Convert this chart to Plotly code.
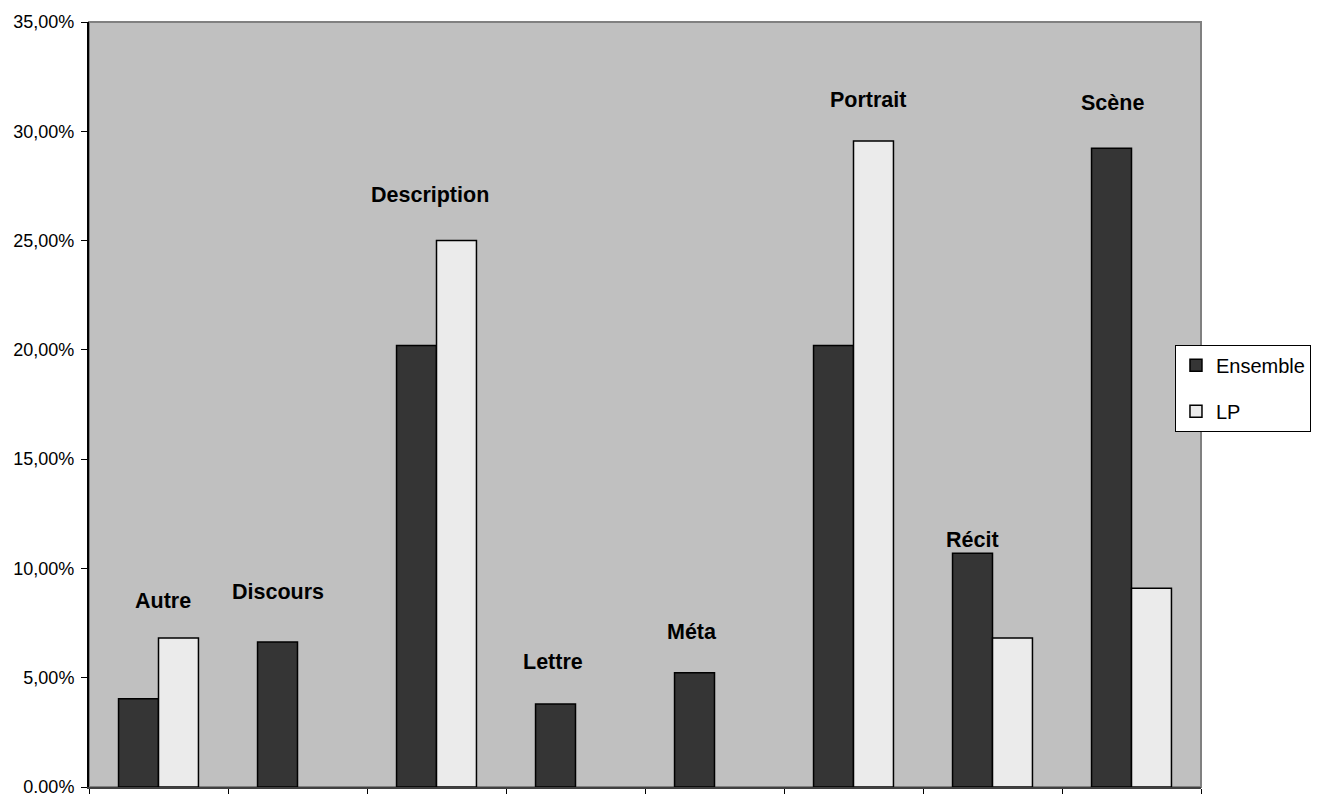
import plotly.graph_objects as go

# Share of each passage type, whole corpus vs. LP (None = no passage of that type)
categories = ["Autre", "Discours", "Description", "Lettre", "Méta", "Portrait", "Récit", "Scène"]
ensemble = [0.0404, 0.0663, 0.2020, 0.0380, 0.0523, 0.2020, 0.1069, 0.2922]
lp = [0.0682, None, 0.2500, None, None, 0.2955, 0.0682, 0.0909]

y_tickvals = [0, 0.05, 0.10, 0.15, 0.20, 0.25, 0.30, 0.35]
y_ticktext = ["0.00%", "5,00%", "10,00%", "15,00%", "20,00%", "25,00%", "30,00%", "35,00%"]

# Category name labels placed above each group (y in data units, x offset in px)
label_y = [0.0851, 0.0892, 0.2709, 0.0572, 0.0709, 0.3143, 0.1130, 0.3129]
label_dx = [4.5, -20, -7, -22.5, -22.5, 14.5, -20.5, -19.5]

fig = go.Figure()
fig.add_trace(go.Bar(
    x=categories, y=ensemble, name="Ensemble", legendgroup="a",
    marker=dict(color="#353535", line=dict(color="#000000", width=1.5)),
))
fig.add_trace(go.Bar(
    x=categories, y=lp, name="LP", legendgroup="b",
    marker=dict(color="#EBEBEB", line=dict(color="#000000", width=1.5)),
))

for cat, ly, dx in zip(categories, label_y, label_dx):
    fig.add_annotation(
        x=cat, y=ly, xshift=dx, text=f"<b>{cat}</b>", showarrow=False,
        xanchor="center", yanchor="middle",
        font=dict(family="Arial, Liberation Sans", size=21.5, color="#000000"),
    )

# Gray frame around the plotting area (top and right edges)
fig.add_shape(
    type="rect", xref="x domain", yref="y domain", x0=0, x1=1, y0=0, y1=1,
    line=dict(color="#808080", width=2), layer="below",
)

fig.update_layout(
    width=1321, height=794,
    margin=dict(l=89, r=120, t=22, b=7),
    paper_bgcolor="#FFFFFF",
    plot_bgcolor="#C0C0C0",
    barmode="group",
    bargap=0.425,
    bargroupgap=0,
    font=dict(family="Arial, Liberation Sans", color="#000000"),
    showlegend=True,
    legend=dict(
        x=0.9766, y=0.578, xanchor="left", yanchor="top",
        bgcolor="#FFFFFF", bordercolor="#000000", borderwidth=1,
        font=dict(size=20, color="#000000"),
        tracegroupgap=17,
        entrywidth=150, entrywidthmode="pixels",
    ),
    xaxis=dict(
        type="category",
        automargin=False,
        showticklabels=False,
        ticks="outside", ticklen=7, tickcolor="#000000", tickwidth=1,
        tickson="boundaries",
        showline=True, linecolor="#404040", linewidth=2,
        showgrid=False, zeroline=False,
    ),
    yaxis=dict(
        automargin=False,
        range=[0, 0.35],
        tickvals=y_tickvals, ticktext=y_ticktext,
        ticks="outside", ticklen=6, tickcolor="#000000", tickwidth=1,
        ticklabelstandoff=3,
        ticklabeloverflow="allow",
        tickfont=dict(size=18, color="#000000"),
        showline=True, linecolor="#000000", linewidth=2,
        showgrid=False, zeroline=False,
    ),
)

fig.write_html("out.html")
